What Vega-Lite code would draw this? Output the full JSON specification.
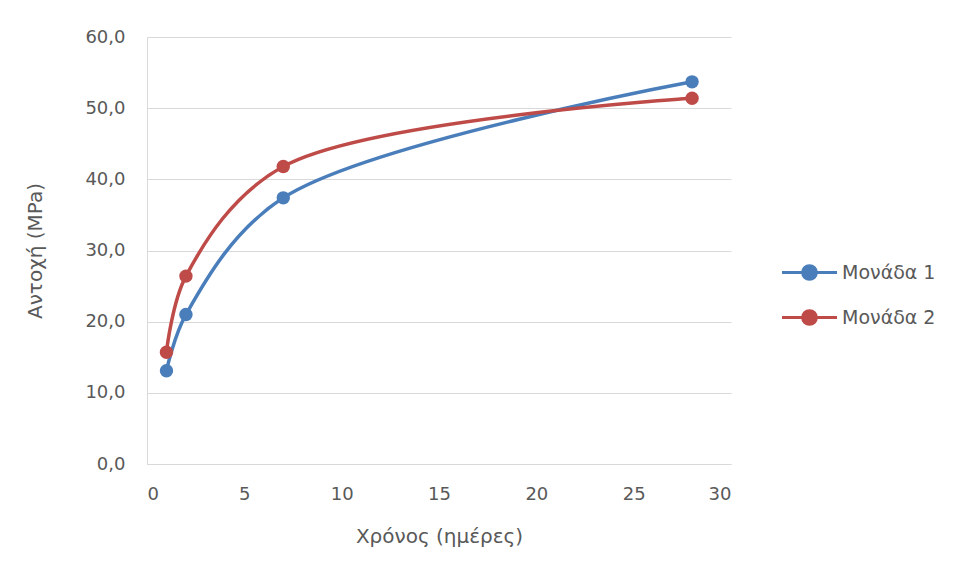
{
  "$schema": "https://vega.github.io/schema/vega-lite/v6.json",
  "width": 584,
  "height": 427,
  "autosize": {"type": "none"},
  "padding": {"left": 147, "top": 37, "right": 226, "bottom": 115},
  "background": "white",
  "config": {
    "font": "DejaVu Sans",
    "view": {"stroke": null},
    "axis": {"labelColor": "#595959", "titleColor": "#595959", "labelFontSize": 18, "titleFontSize": 20, "titleFontWeight": "normal", "domainColor": "#D9D9D9", "gridColor": "#D9D9D9", "ticks": false}
  },
  "data": {"values": [
    {"t": 1, "v": 13.1, "s": "Μονάδα 1"},
    {"t": 2, "v": 21.0, "s": "Μονάδα 1"},
    {"t": 7, "v": 37.4, "s": "Μονάδα 1"},
    {"t": 28, "v": 53.7, "s": "Μονάδα 1"},
    {"t": 1, "v": 15.7, "s": "Μονάδα 2"},
    {"t": 2, "v": 26.4, "s": "Μονάδα 2"},
    {"t": 7, "v": 41.8, "s": "Μονάδα 2"},
    {"t": 28, "v": 51.4, "s": "Μονάδα 2"}
  ]},
  "encoding": {
    "x": {"field": "t", "type": "quantitative", "scale": {"domain": [0, 30], "nice": false}, "axis": {"values": [0, 5, 10, 15, 20, 25, 30], "grid": false, "title": "Χρόνος (ημέρες)", "labelPadding": 21, "titlePadding": 23}},
    "y": {"field": "v", "type": "quantitative", "scale": {"domain": [0, 60], "nice": false}, "axis": {"values": [0, 10, 20, 30, 40, 50, 60], "labelExpr": "replace(format(datum.value, '.1f'), '.', ',')", "title": "Αντοχή (MPa)", "labelPadding": 22, "titlePadding": 39}},
    "color": {"field": "s", "type": "nominal", "scale": {"domain": ["Μονάδα 1", "Μονάδα 2"], "range": ["#4A7EBB", "#BE4B48"]},
      "legend": {"title": null, "orient": "none", "legendX": 647, "legendY": 220, "symbolType": "M-2,0L2,0M-0.5,0A0.5,0.5,0,1,1,0.5,0A0.5,0.5,0,1,1,-0.5,0Z", "symbolSize": 756, "symbolStrokeWidth": 3, "labelOffset": 17, "labelFontSize": 19, "labelColor": "#595959", "rowPadding": 16}}
  },
  "layer": [
    {"mark": {"type": "line", "interpolate": "catmull-rom", "strokeWidth": 3.5}},
    {"mark": {"type": "point", "filled": true, "size": 180, "opacity": 1}}
  ]
}
